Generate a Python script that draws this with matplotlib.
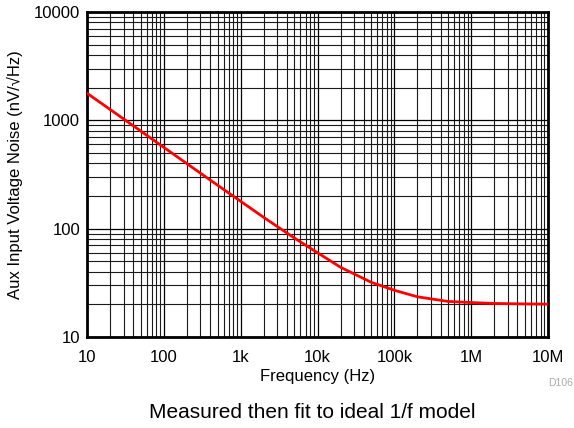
import numpy as np
import matplotlib
matplotlib.use("Agg")
import matplotlib.pyplot as plt
from matplotlib.ticker import LogLocator, FixedLocator, FixedFormatter, NullFormatter

plt.rcParams['font.family'] = ['Liberation Sans', 'DejaVu Sans']

# ─── data ───
freq_hz = [10, 20, 50, 100, 200, 500, 1e3, 2e3, 5e3, 1e4, 2e4, 5e4,
           1e5, 2e5, 5e5, 1e6, 2e6, 5e6, 1e7]
noise_nv = [1780, 1260, 797, 563, 398, 252, 179, 127, 82, 60, 44, 32,
            27, 23.5, 21.3, 20.8, 20.4, 20.2, 20.1]

x_ticks = [10, 100, 1e3, 1e4, 1e5, 1e6, 1e7]
x_tick_labels = ["10", "100", "1k", "10k", "100k", "1M", "10M"]
y_ticks = [10, 100, 1000, 10000]
y_tick_labels = ["10", "100", "1000", "10000"]

fig = plt.figure(figsize=(5.74, 4.28), dpi=100)
ax = fig.add_axes([87 / 574, 1 - 337 / 428, 461 / 574, 325 / 428])

ax.plot(freq_hz, noise_nv, color='#ff0000', linewidth=2, zorder=3)

ax.set_xscale('log')
ax.set_yscale('log')
ax.set_xlim(10, 1e7)
ax.set_ylim(10, 1e4)

ax.xaxis.set_major_locator(FixedLocator(x_ticks))
ax.xaxis.set_major_formatter(FixedFormatter(x_tick_labels))
ax.yaxis.set_major_locator(FixedLocator(y_ticks))
ax.yaxis.set_major_formatter(FixedFormatter(y_tick_labels))
ax.xaxis.set_minor_locator(LogLocator(base=10, subs=np.arange(2, 10)))
ax.yaxis.set_minor_locator(LogLocator(base=10, subs=np.arange(2, 10)))
ax.xaxis.set_minor_formatter(NullFormatter())
ax.yaxis.set_minor_formatter(NullFormatter())

ax.grid(which='major', color='black', linewidth=0.9)
ax.grid(which='minor', color='#1a1a1a', linewidth=0.8)
ax.tick_params(which='both', length=0, labelsize=12)
ax.tick_params(axis='x', pad=9)
ax.tick_params(axis='y', pad=5)

for sp in ax.spines.values():
    sp.set_linewidth(2)
    sp.set_color('black')

ax.set_xlabel("Frequency (Hz)", fontsize=12, labelpad=3)
ax.set_ylabel("Aux Input Voltage Noise (nV/\u221aHz)", fontsize=12, labelpad=8)

fig.text(573 / 574, 1 - 383 / 428, "D106", fontsize=7.5, color='#aaaaaa',
         ha='right', va='center')
fig.text(312 / 574, 1 - 413 / 428, "Measured then fit to ideal 1/f model",
         fontsize=15, ha='center', va='center')

fig.savefig("out.png", dpi=100)
